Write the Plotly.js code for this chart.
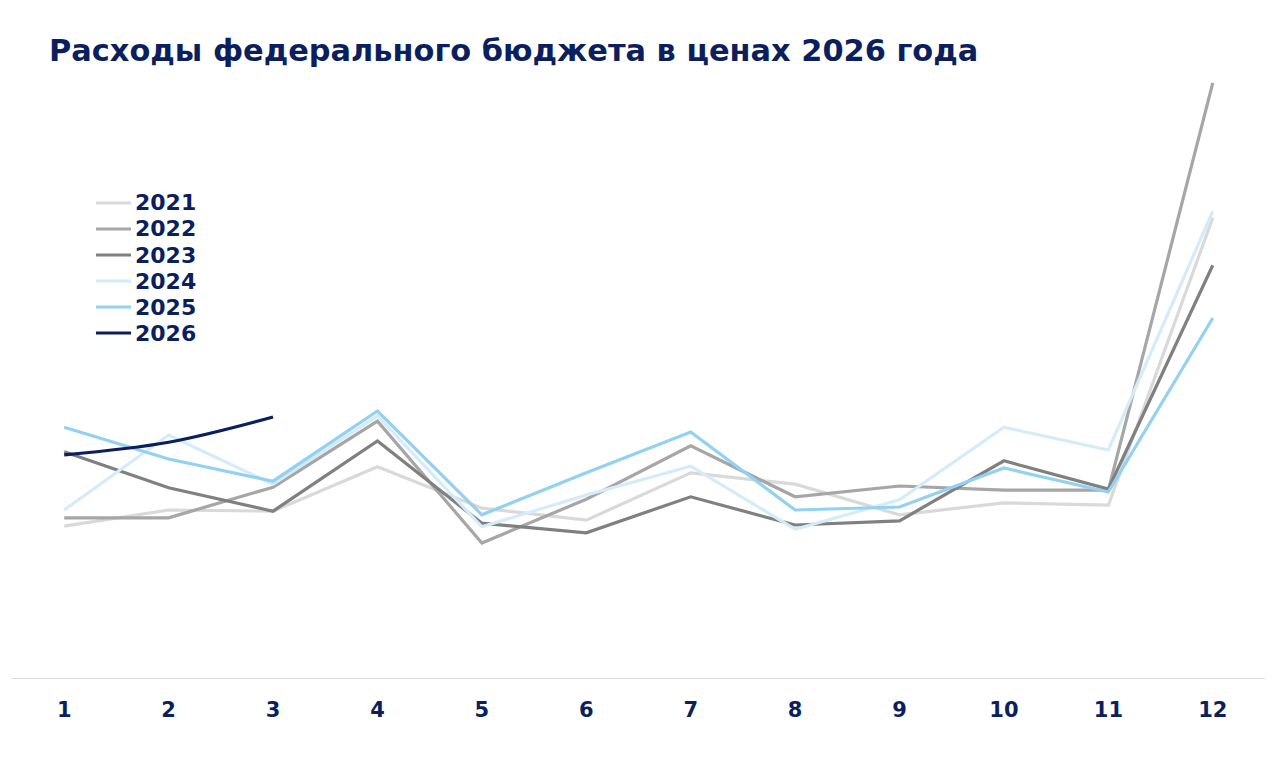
<!DOCTYPE html>
<html>
<head>
<meta charset="utf-8">
<script src="https://cdn.plot.ly/plotly-3.0.1.min.js"></script>
<style>
  html, body { margin: 0; padding: 0; background: #fff; }
  #plotly { width: 1280px; height: 757px; }
</style>
</head>
<body>
<div id="plotly"></div>
<script>
// months and monthly spending (trln rub, 2026 prices)
var months = [1, 2, 3, 4, 5, 6, 7, 8, 9, 10, 11, 12];
var y2021 = [2.53, 2.80, 2.78, 3.52, 2.83, 2.63, 3.42, 3.23, 2.72, 2.92, 2.88, 7.67];
var y2022 = [2.67, 2.67, 3.18, 4.28, 2.25, 2.98, 3.87, 3.02, 3.20, 3.13, 3.13, 9.92];
var y2023 = [3.77, 3.17, 2.78, 3.95, 2.58, 2.42, 3.02, 2.55, 2.62, 3.62, 3.15, 6.88];
var y2024 = [2.80, 4.05, 3.23, 4.37, 2.52, 3.05, 3.53, 2.48, 2.97, 4.18, 3.80, 7.78];
var y2025 = [4.18, 3.65, 3.28, 4.45, 2.72, 3.42, 4.10, 2.80, 2.85, 3.50, 3.10, 6.00];
var y2026 = [3.72, 3.93, 4.35];

var navy = '#0b1f5e';

function line(name, y, color, shape) {
  return {
    x: months.slice(0, y.length),
    y: y,
    name: name,
    mode: 'lines',
    line: { color: color, width: 3.2, shape: shape || 'linear' }
  };
}

var data = [
  line('2021', y2021, '#d9d9d9'),
  line('2022', y2022, '#a6a6a6'),
  line('2023', y2023, '#808080'),
  line('2024', y2024, '#d4ecfa'),
  line('2025', y2025, '#92d1f2'),
  line('2026', y2026, navy, 'spline')
];

// hand-made legend: the built-in one spaces rows too far apart
var shapes = [];
var annotations = [];
data.forEach(function (tr, i) {
  var yy = 0.754 - i * 0.0413;
  shapes.push({
    type: 'line', xref: 'paper', yref: 'paper',
    x0: 0.067, x1: 0.095, y0: yy, y1: yy,
    line: { color: tr.line.color, width: 3 }
  });
  annotations.push({
    xref: 'paper', yref: 'paper', x: 0.0965, y: yy,
    xanchor: 'left', yanchor: 'middle', showarrow: false,
    text: '<b>' + tr.name + '</b>',
    font: { size: 22, color: navy }
  });
});

var layout = {
  width: 1280,
  height: 757,
  paper_bgcolor: '#fff',
  plot_bgcolor: '#fff',
  margin: { l: 12, r: 15, t: 48, b: 79 },
  font: { family: 'DejaVu Sans, Verdana, sans-serif', color: navy },
  title: {
    text: '<b>Расходы федерального бюджета в ценах 2026 года</b>',
    font: { size: 30.4, color: navy },
    x: 0, xref: 'paper', xanchor: 'left', y: 0.933, yanchor: 'middle',
    pad: { l: 37 }
  },
  showlegend: false,
  shapes: shapes,
  annotations: annotations,
  xaxis: {
    range: [0.5, 12.5],
    tickvals: months,
    ticktext: months.map(String),
    tickfont: { size: 21, color: navy, weight: 'bold' },
    showgrid: false,
    zeroline: false,
    showline: true,
    linecolor: '#d9d9d9',
    linewidth: 1,
    ticks: '',
    ticklabelstandoff: 13,
    fixedrange: true
  },
  yaxis: {
    range: [0, 10.5],
    showgrid: false,
    zeroline: false,
    showline: false,
    showticklabels: false,
    ticks: '',
    fixedrange: true
  }
};

Plotly.newPlot('plotly', data, layout, { displayModeBar: false, staticPlot: true });
</script>
</body>
</html>
